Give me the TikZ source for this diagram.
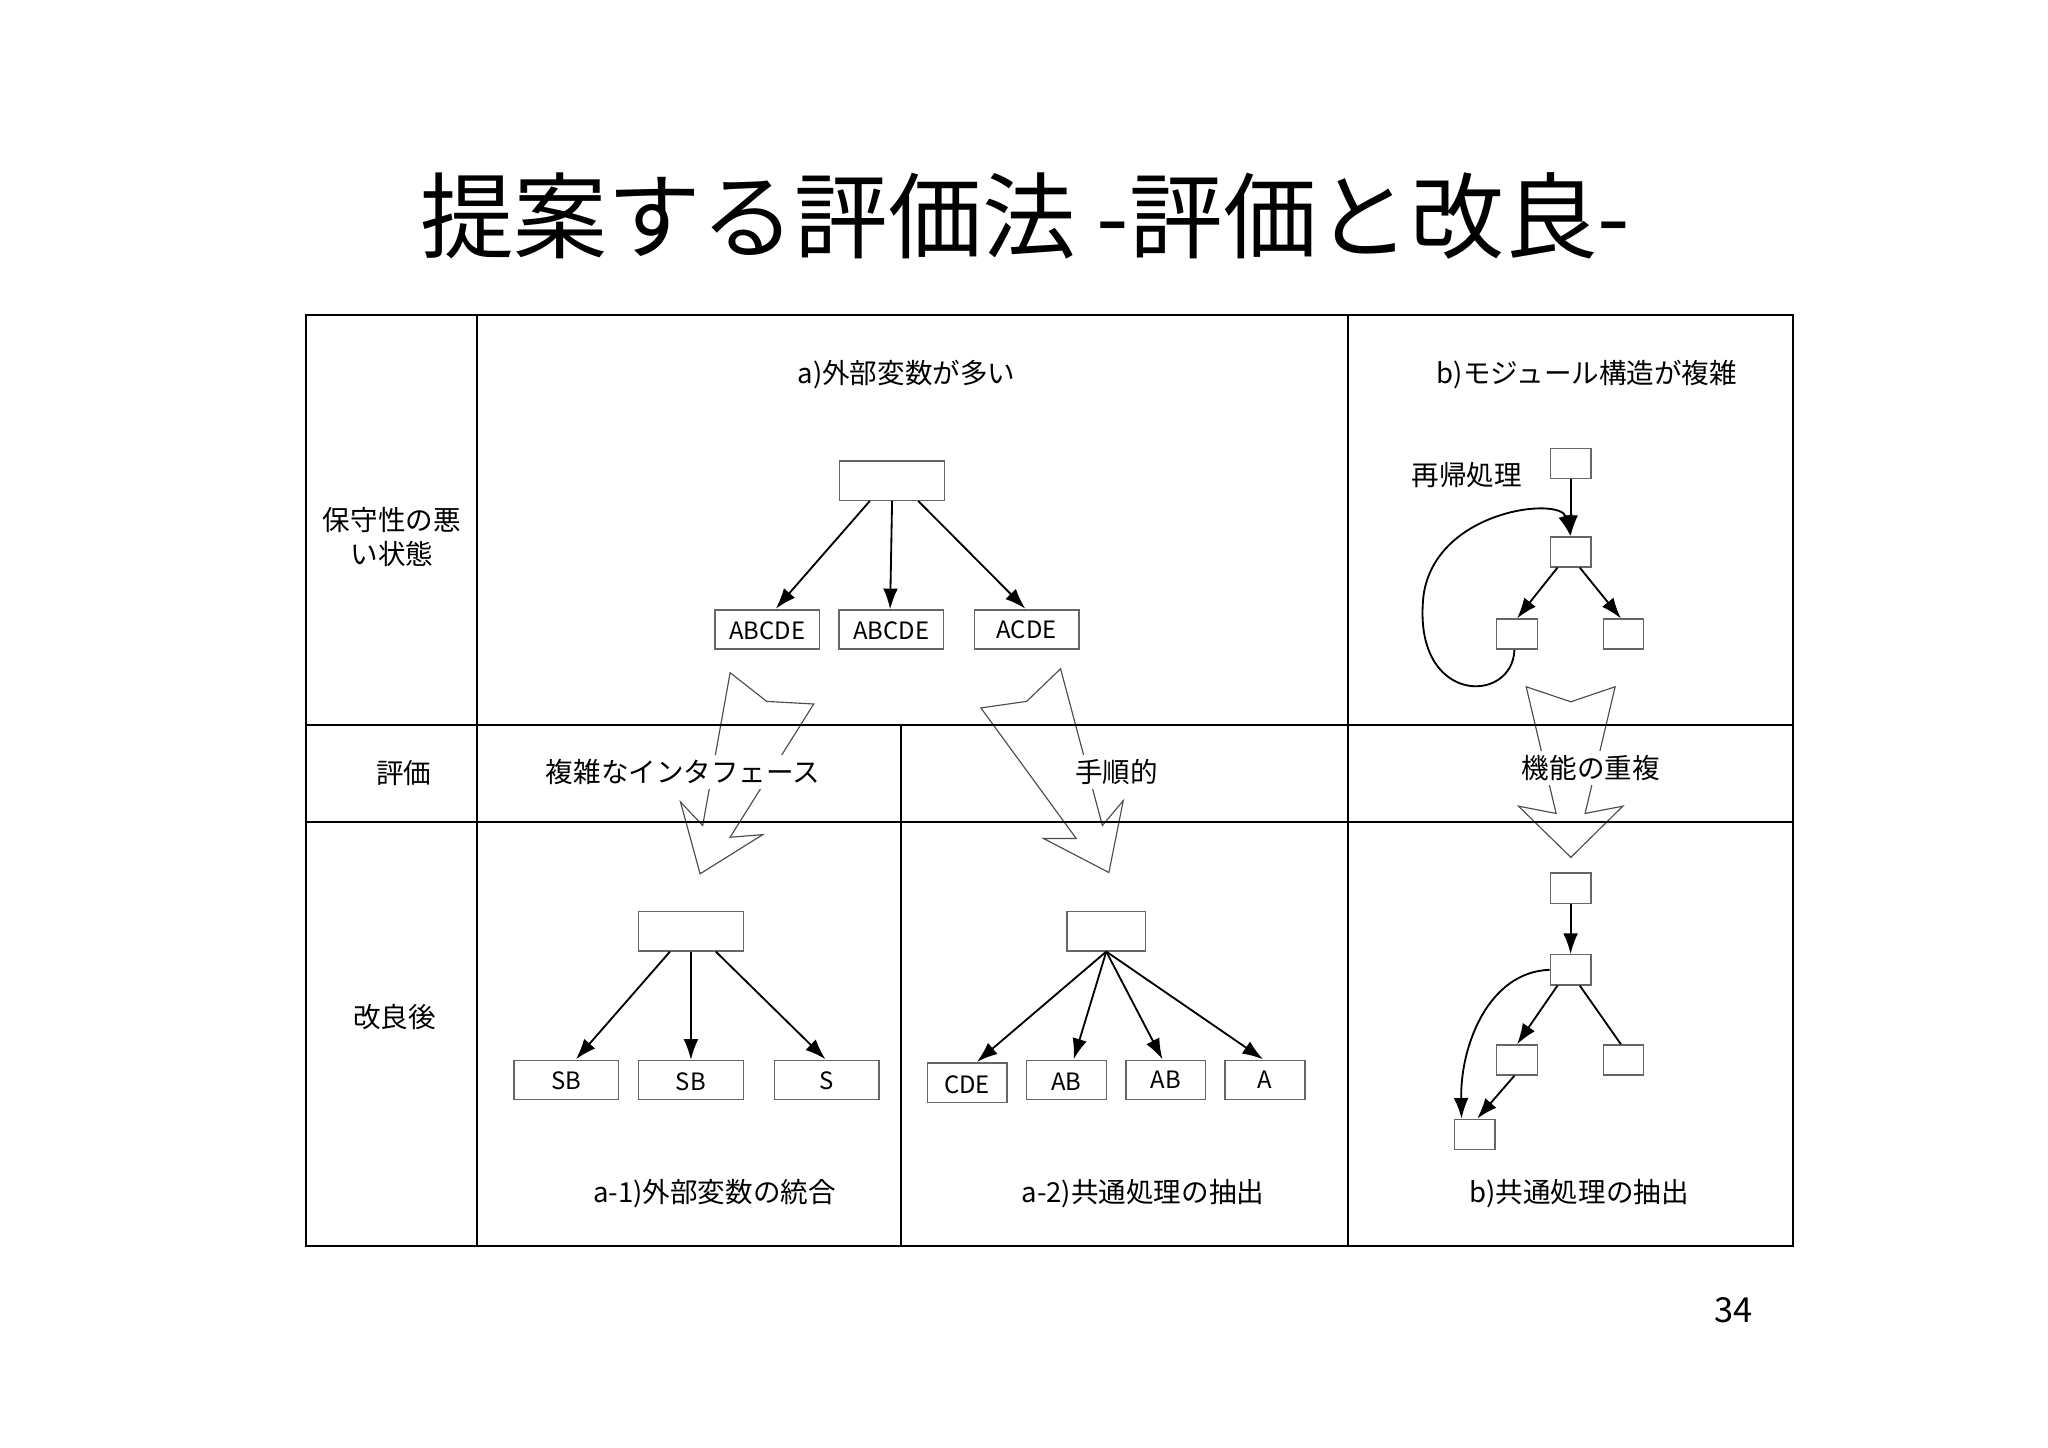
\documentclass[tikz,border=0pt]{standalone}
\usepackage{fontspec}
\setmainfont{Noto Sans CJK JP}
\usetikzlibrary{arrows.meta}
\begin{document}
\begin{tikzpicture}[x=0.01cm,y=-0.01cm,
  grid/.style={line width=0.45pt},
  bx/.style={draw=black!60,line width=0.3pt,minimum width=#1,minimum height=0.3cm,inner sep=0pt,font=\fontsize{5.2}{5.2}\selectfont,text depth=0pt},
  bx/.default=0.8cm,
  sbx/.style={draw=black!60,line width=0.3pt,minimum width=0.31cm,minimum height=0.23cm,inner sep=0pt},
  con/.style={line width=0.4pt,-{Latex[length=4.5pt,width=3.2pt]}},
  big/.style={draw=black!70,line width=0.25pt},
  lbl/.style={font=\fontsize{6}{7.3}\selectfont,inner sep=1pt},
  wl/.style={lbl,fill=white}]
\useasboundingbox (0,0) rectangle (1568,1108);
% title
\node[font=\fontsize{20.4}{20.4}\selectfont] (title) at (785,165) {提案する評価法 -評価と改良-};
\node[font=\fontsize{7.5}{8}\selectfont] (pg) at (1327,1003) {34};
% big hollow arrows
\draw[big] (559,515)--(587,537)--(623,539)--(559,641)--(584,639)--(536,669)--(521,614)--(538,632)--cycle;
\draw[big] (812,512)--(844,632)--(860,613)--(849,668)--(799,642)--(824,642)--(751,542)--(786,537)--cycle;
\draw[big] (1168.5,525.8)--(1202.7,537.3)--(1236.6,525.8)--(1213.6,622.8)--(1242.5,617.2)--(1202.7,656.4)--(1162.6,617.2)--(1191.4,622.8)--cycle;
% table
\draw[grid] (234,241) rectangle (1373,954);
\draw[grid] (365,241)--(365,954);
\draw[grid] (1032,241)--(1032,954);
\draw[grid] (690,555)--(690,954);
\draw[grid] (234,555)--(1373,555);
\draw[grid] (234,629)--(1373,629);
% labels
\node[lbl] (ha) at (694,287) {a)外部変数が多い};
\node[lbl] (hb) at (1215,287) {b)モジュール構造が複雑};
\node[lbl,align=center] (r1) at (300,411) {保守性の悪\\い状態};
\node[lbl] (r2) at (309,592) {評価};
\node[lbl] (r3) at (302,779) {改良後};
\node[wl] (e1) at (523,591) {複雑なインタフェース};
\node[wl] (e2) at (855,591) {手順的};
\node[wl] (e3) at (1218,588) {機能の重複};
\node[lbl] (f1) at (547,914) {a-1)外部変数の統合};
\node[lbl] (f2) at (875,914) {a-2)共通処理の抽出};
\node[lbl] (f3) at (1209,914) {b)共通処理の抽出};
\node[lbl] (rec) at (1123,364) {再帰処理};
% a top
\node[bx] (a0) at (683,368) {};
\node[bx] (a1) at (587.5,482) {\raisebox{-0.6pt}{ABCDE}};
\node[bx] (a2) at (682.5,482) {\raisebox{-0.6pt}{ABCDE}};
\node[bx] (a3) at (786,482) {ACDE};
\coordinate (a1t) at (594,466);
\coordinate (a3t) at (785,466);
\draw[con] ([xshift=-0.17cm]a0.south) -- (a1t);
\draw[con] (a0.south) -- ([xshift=-0.01cm]a2.north);
\draw[con] ([xshift=0.2cm]a0.south) -- (a3t);
% b top
\node[sbx] (b0) at (1202.5,355) {};
\node[sbx] (b1) at (1202.5,422.5) {};
\node[sbx] (b2) at (1161.5,485.5) {};
\node[sbx] (b3) at (1243,485.5) {};
\draw[con] (b0) -- (b1);
\draw[con] ([xshift=-0.1cm]b1.south) -- (b2.north);
\draw[con] ([xshift=0.07cm]b1.south) -- ([xshift=-0.02cm]b3.north);
\draw[line width=0.4pt,-{Latex[length=4.5pt,width=3.2pt]}] ([xshift=-0.02cm]b2.south) .. controls (1158,540) and (1080,540) .. (1090,455) .. controls (1100,390) and (1195,380) .. (b1.north);
% a-1
\node[bx] (c0) at (529,713) {};
\node[bx] (c1) at (433.5,827) {SB};
\node[bx] (c2) at (529,827) {\raisebox{-0.6pt}{SB}};
\node[bx] (c3) at (633,827) {S};
\coordinate (c1t) at (441,811);
\coordinate (c3t) at (632,811);
\draw[con] ([xshift=-0.16cm]c0.south) -- (c1t);
\draw[con] (c0.south) -- (c2.north);
\draw[con] ([xshift=0.19cm]c0.south) -- (c3t);
% a-2
\node[bx=0.6cm] (d0) at (847,713) {};
\node[bx=0.61cm] (d1) at (740.5,829) {\raisebox{-0.6pt}{CDE}};
\node[bx=0.61cm] (d2) at (816.5,827) {\raisebox{-0.6pt}{AB}};
\node[bx=0.61cm] (d3) at (892.5,827) {AB};
\node[bx=0.61cm] (d4) at (968.5,827) {A};
\coordinate (d1t) at (748,813);
\coordinate (d2t) at (822,811);
\coordinate (d3t) at (890,811);
\coordinate (d4t) at (967,811);
\draw[con] (d0.south) -- (d1t);
\draw[con] (d0.south) -- (d2t);
\draw[con] (d0.south) -- (d3t);
\draw[con] (d0.south) -- (d4t);
% b bottom
\node[sbx] (g0) at (1202.5,680) {};
\node[sbx] (g1) at (1202.5,742.5) {};
\node[sbx] (g2) at (1161.5,811.5) {};
\node[sbx] (g3) at (1243,811.5) {};
\node[sbx] (g4) at (1129,868.5) {};
\draw[con] (g0) -- (g1);
\draw[con] ([xshift=-0.1cm]g1.south) -- (g2.north);
\draw[line width=0.4pt] ([xshift=0.07cm]g1.south) -- ([xshift=-0.02cm]g3.north);
\draw[con] ([xshift=-0.02cm]g2.south) -- ([xshift=0.02cm]g4.north);
\draw[con] (g1.west) .. controls (1140,744) and (1118,800) .. ([xshift=-0.1cm]g4.north);
\end{tikzpicture}
\end{document}
